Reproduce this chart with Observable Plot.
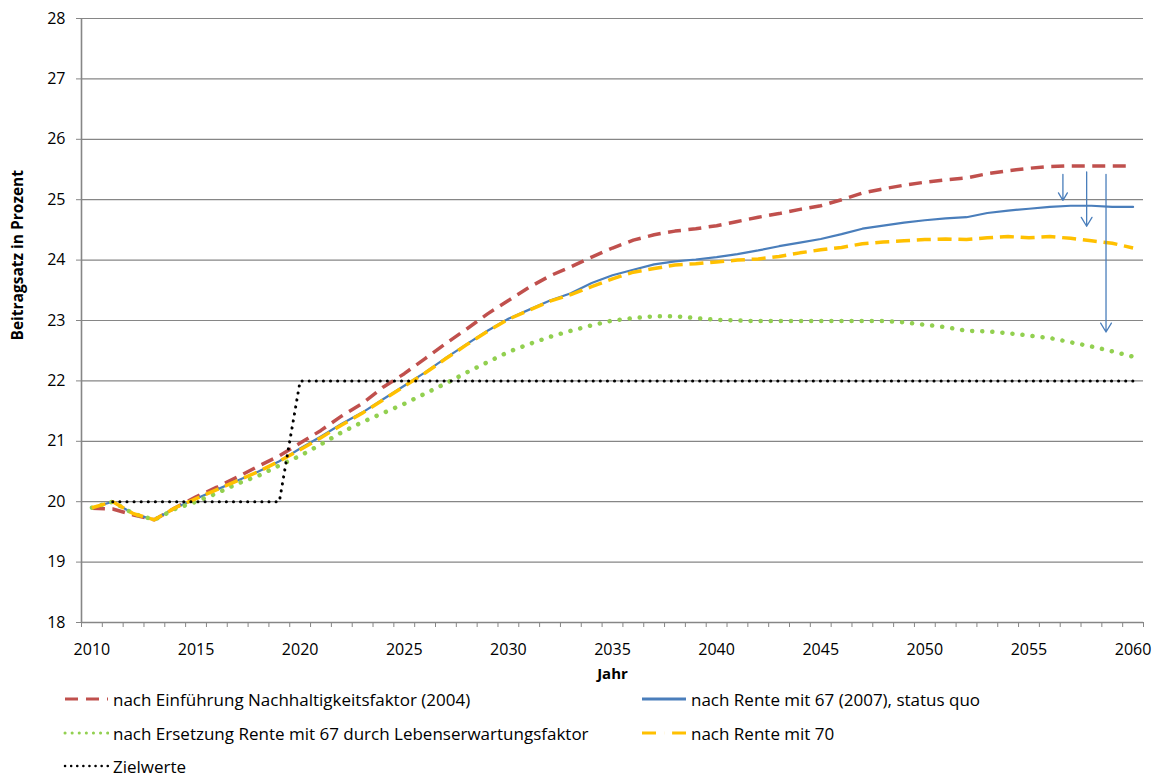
<!DOCTYPE html>
<html>
<head>
<meta charset="utf-8">
<script src="https://cdn.jsdelivr.net/npm/d3@7"></script>
<script src="https://cdn.jsdelivr.net/npm/@observablehq/plot@0.6"></script>
<style>
  body { margin: 0; background: #fff; font-family: "Open Sans", sans-serif; }
  #wrap { position: relative; width: 1159px; height: 776px; }
  .leg { position: absolute; display: flex; align-items: center; font-size: 17px; color: #000; white-space: nowrap; height: 20px; }
  .leg svg { margin-right: 4px; }
</style>
</head>
<body>
<div id="wrap"><div id="chart"></div></div>
<script>
// Categories (years)
const years = d3.range(2010, 2061);
const labelYears = [2010, 2015, 2020, 2025, 2030, 2035, 2040, 2045, 2050, 2055, 2060];
const yTicks = [18, 19, 20, 21, 22, 23, 24, 25, 26, 27, 28];

// Series values 2010..2060
const nachhaltigkeit = [19.89,19.88,19.78,19.7,19.9,20.08,20.24,20.41,20.59,20.76,20.97,21.18,21.42,21.63,21.9,22.12,22.37,22.62,22.86,23.11,23.33,23.55,23.74,23.89,24.05,24.2,24.33,24.42,24.48,24.52,24.57,24.64,24.71,24.77,24.84,24.9,25.0,25.11,25.18,25.24,25.29,25.33,25.36,25.43,25.48,25.52,25.55,25.56,25.56,25.56,25.56];
const rente67 = [19.9,20.0,19.8,19.7,19.9,20.05,20.2,20.35,20.5,20.67,20.88,21.08,21.29,21.48,21.7,21.92,22.14,22.38,22.61,22.83,23.03,23.18,23.33,23.45,23.62,23.75,23.84,23.93,23.98,24.01,24.05,24.1,24.16,24.23,24.29,24.35,24.43,24.52,24.57,24.62,24.66,24.69,24.71,24.78,24.82,24.85,24.88,24.9,24.9,24.88,24.88];
const lebenserwartung = [19.9,20.0,19.8,19.7,19.88,20.0,20.14,20.3,20.43,20.6,20.76,20.95,21.15,21.32,21.47,21.62,21.79,21.96,22.14,22.31,22.48,22.61,22.73,22.83,22.92,23.0,23.04,23.07,23.07,23.04,23.01,23.0,22.99,22.99,22.99,22.99,22.99,22.99,22.99,22.97,22.93,22.89,22.83,22.82,22.79,22.75,22.71,22.64,22.57,22.49,22.4];
const rente70 = [19.9,20.0,19.8,19.7,19.9,20.05,20.2,20.35,20.5,20.67,20.86,21.06,21.27,21.47,21.69,21.91,22.13,22.37,22.6,22.82,23.02,23.17,23.32,23.43,23.56,23.69,23.8,23.86,23.92,23.94,23.97,24.0,24.02,24.06,24.12,24.17,24.21,24.27,24.3,24.32,24.34,24.35,24.34,24.37,24.39,24.37,24.39,24.36,24.32,24.28,24.2];
const zielwerte = [null,20,20,20,20,20,20,20,20,20,22,22,22,22,22,22,22,22,22,22,22,22,22,22,22,22,22,22,22,22,22,22,22,22,22,22,22,22,22,22,22,22,22,22,22,22,22,22,22,22,22];

// Annotation arrows (year position, from value, to value)
const arrowX = [2056.63, 2057.77, 2058.7];
const arrowFrom = [25.42, 25.46, 25.42];
const arrowTo = [24.99, 24.56, 22.81];

const seriesNames = [
  "nach Einführung Nachhaltigkeitsfaktor (2004)",
  "nach Rente mit 67 (2007), status quo",
  "nach Ersetzung Rente mit 67 durch Lebenserwartungsfaktor",
  "nach Rente mit 70",
  "Zielwerte"
];

const styles = [
  {stroke: "#c0504d", strokeWidth: 3.5, strokeDasharray: "13,7.5", strokeLinecap: "butt"},
  {stroke: "#4a7ebb", strokeWidth: 2.2, strokeDasharray: null, strokeLinecap: "round"},
  {stroke: "#92d050", strokeWidth: 4.5, strokeDasharray: "0.1,10", strokeLinecap: "round"},
  {stroke: "#ffc000", strokeWidth: 3.5, strokeDasharray: "14,6.8", strokeLinecap: "butt"},
  {stroke: "#000000", strokeWidth: 3, strokeDasharray: "0.1,7", strokeLinecap: "round"}
];
const seriesValues = [nachhaltigkeit, rente67, lebenserwartung, rente70, zielwerte];

const font = "'Open Sans', sans-serif";
const grid = "#868686";

const lineMarks = seriesValues.map((vals, i) => Plot.line(years.map((y, j) => ({year: y, v: vals[j]})), {
  x: "year", y: "v",
  stroke: styles[i].stroke,
  strokeWidth: styles[i].strokeWidth,
  strokeDasharray: styles[i].strokeDasharray,
  strokeLinecap: styles[i].strokeLinecap,
  strokeLinejoin: "round"
}));

const arrows = arrowX.map((x, i) => ({x, from: arrowFrom[i], to: arrowTo[i]}));
const boundaries = d3.range(2009.5, 2061, 1);

const chart = Plot.plot({
  width: 1159,
  height: 690,
  marginLeft: 81,
  marginRight: 16,
  marginTop: 18,
  marginBottom: 68,
  style: {fontFamily: font, background: "white"},
  x: {type: "linear", domain: [2009.5, 2060.5]},
  y: {domain: [18, 28]},
  marks: [
    Plot.gridY(yTicks.slice(1), {stroke: grid, strokeOpacity: 1, strokeWidth: 1.2}),
    Plot.axisY(yTicks, {tickSize: 5, tickPadding: 11, stroke: grid, fill: "#000", fontSize: 16, tickFormat: d => String(d), label: null}),
    Plot.axisX(boundaries, {tickSize: 5, tickFormat: () => "", stroke: grid, label: null}),
    Plot.axisX(labelYears, {tickSize: 0, tickPadding: 21, fill: "#000", fontSize: 16, tickFormat: d => String(d), label: null}),
    Plot.ruleX([2009.5], {stroke: grid, strokeWidth: 1.6}),
    Plot.ruleY([18], {stroke: grid, strokeWidth: 1.6}),
    ...lineMarks,
    Plot.arrow(arrows, {x1: "x", x2: "x", y1: "from", y2: "to", stroke: "#4a7ebb", strokeWidth: 1.3, headLength: 12, headAngle: 62}),
    Plot.text(["Jahr"], {frameAnchor: "bottom", dy: 56, fontWeight: "bold", fontSize: 15, fill: "#000"}),
    Plot.text(["Beitragsatz in Prozent"], {frameAnchor: "left", dx: -63, dy: 20, rotate: -90, fontWeight: "bold", fontSize: 15.5, fill: "#000"})
  ]
});
document.getElementById("chart").appendChild(chart);

// Legend below the SVG
const legendPos = [
  {left: 63, top: 689}, {left: 640, top: 689},
  {left: 63, top: 723}, {left: 640, top: 723},
  {left: 63, top: 756}
];
const swatchDash = ["13,8", null, "0.1,7", "14,8,0.1,8", "0.1,6"];
const swatchWidth = [2.8, 3, 3, 3, 2.5];
const wrap = document.getElementById("wrap");
seriesNames.forEach((name, i) => {
  const div = document.createElement("div");
  div.className = "leg";
  div.style.left = legendPos[i].left + "px";
  div.style.top = legendPos[i].top + "px";
  const w = i % 2 === 1 ? 47 : 46;
  const ns = "http://www.w3.org/2000/svg";
  const svg = document.createElementNS(ns, "svg");
  svg.setAttribute("width", w);
  svg.setAttribute("height", 20);
  const ln = document.createElementNS(ns, "line");
  ln.setAttribute("x1", 2); ln.setAttribute("x2", w - 1);
  ln.setAttribute("y1", 10); ln.setAttribute("y2", 10);
  ln.setAttribute("stroke", styles[i].stroke);
  ln.setAttribute("stroke-width", swatchWidth[i]);
  if (swatchDash[i]) ln.setAttribute("stroke-dasharray", swatchDash[i]);
  ln.setAttribute("stroke-linecap", (i === 2 || i === 4) ? "round" : "butt");
  svg.appendChild(ln);
  div.appendChild(svg);
  const span = document.createElement("span");
  span.textContent = name;
  div.appendChild(span);
  wrap.appendChild(div);
});
</script>
</body>
</html>
